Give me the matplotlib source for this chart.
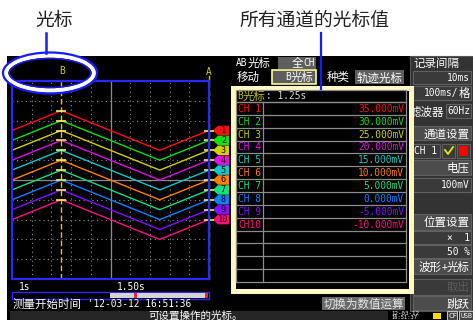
import numpy as np
import matplotlib
matplotlib.use("Agg")
import matplotlib.pyplot as plt
from matplotlib.patches import Rectangle, Ellipse, Polygon
from matplotlib.transforms import blended_transform_factory

# --- data ---
channels = ["CH 1", "CH 2", "CH 3", "CH 4", "CH 5", "CH 6", "CH 7", "CH 8", "CH 9", "CH10"]
cursor_values = [35, 30, 25, 20, 15, 10, 5, 0, -5, -10]          # mV at B cursor
colors = ["#ff1010", "#10e010", "#d0d000", "#e010e0", "#10c8c8",
          "#ff8000", "#10e080", "#1080ff", "#8010ff", "#ff1080"]
wave_t = [1.0, 1.25, 1.75, 2.0]          # s, corners of the triangle wave
wave_shape = [-10, 0, -20, -10]          # mV, relative to the B-cursor value
cursor_b = 1.25
cursor_a = 2.0
t_range = (1.0, 2.0)
v_range = (-50, 50)

W, H = 473, 320
MONO = "DejaVu Sans Mono"
CJK = "Noto Sans CJK SC"
YEL = "#d0d000"

fig = plt.figure(figsize=(W / 100, H / 100), dpi=100, facecolor="white")


def px_axes(x0, y0, x1, y1):
    return fig.add_axes([x0 / W, 1 - y1 / H, (x1 - x0) / W, (y1 - y0) / H])


def rect(ax, x0, y0, x1, y1, fc="none", ec="none", lw=0, z=1):
    ax.add_patch(Rectangle((x0, y0), x1 - x0, y1 - y0, facecolor=fc,
                           edgecolor=ec, linewidth=lw, zorder=z))


def wide(c):
    return ord(c) > 0x2e80


def stext(ax, x, y, s, color="white", em=11.5, ha="left", z=5):
    # pixel-font style: ascii half width, CJK full width
    adv = [em if wide(c) else em / 2 for c in s]
    total = sum(adv)
    x0 = x - total if ha == "right" else (x - total / 2 if ha == "center" else x)
    i = 0
    while i < len(s):
        w = wide(s[i])
        j = i
        while j < len(s) and wide(s[j]) == w:
            j += 1
        run = s[i:j]
        if w:
            ax.text(x0, y + 0.38 * em, run, family=CJK, fontsize=em * 0.72,
                    color=color, va="baseline", ha="left", zorder=z)
        else:
            fs = em / 2 / 0.602
            ax.text(x0, y + 0.36 * fs, run, family=MONO, fontsize=fs * 0.72,
                    color=color, va="baseline", ha="left", zorder=z)
        x0 += sum(adv[i:j])
        i = j


bg = px_axes(0, 0, W, H)
bg.set_xlim(0, W)
bg.set_ylim(H, 0)
bg.axis("off")

# screen
rect(bg, 7, 56, W, H, fc="black")

# top controls
stext(bg, 236, 63, "AB光标")
rect(bg, 278, 57, 316, 69, fc="#5e5e5e")
stext(bg, 315, 63, "全CH", ha="right")
stext(bg, 237, 77, "移动")
rect(bg, 272, 70, 316, 84, fc="#5e5e5e", ec="#ffff90", lw=1.2)
stext(bg, 314, 77, "B光标", ha="right")
stext(bg, 327, 77, "种类")
rect(bg, 355, 70, 404, 84, fc="#5e5e5e")
stext(bg, 403, 77, "轨迹光标", ha="right")

# right panel
rect(bg, 410, 56, W, 311, fc="#333333", ec="#555555", lw=0.8)
stext(bg, 413, 63, "记录间隔")
panel = [  # (text, y0, y1, fill, text colour)
    ("10ms", 71, 84, "#3a3a3a", "white"),
    ("100ms/格", 86, 100, "#3a3a3a", "white"),
    ("通道设置", 126, 140, "#4c4c4c", "white"),
    ("电压", 160, 175, "#4c4c4c", "white"),
    ("100mV", 178, 192, "#3a3a3a", "white"),
    ("位置设置", 214, 230, "#4c4c4c", "white"),
    ("×  1", 231, 244, "#3a3a3a", "white"),
    ("50 %", 245, 258, "#3a3a3a", "white"),
    ("波形+光标", 259, 274, "#4c4c4c", "white"),
    ("取出", 279, 295, "#3a3a3a", "#5c5c5c"),
    ("跳跃", 296, 310, "#4c4c4c", "white"),
]
for txt, y0, y1, fc, tc in panel:
    rect(bg, 413, y0, 471, y1, fc=fc, ec="#606060", lw=0.8)
    stext(bg, 470, (y0 + y1) / 2, txt, color=tc, ha="right")
stext(bg, 410, 111, "滤波器")
rect(bg, 446, 104, 471, 118, fc="#3a3a3a", ec="#606060", lw=0.8)
stext(bg, 470, 111, "60Hz", ha="right")
rect(bg, 413, 144, 440, 158, fc="#3a3a3a", ec="#606060", lw=0.8)
stext(bg, 414, 151, "CH 1")
rect(bg, 442, 144, 455, 158, fc="#3a3a3a", ec="#606060", lw=0.8)
bg.plot([445, 448, 453], [150, 154, 147], color="#e8e800", lw=1.3, zorder=5)
rect(bg, 457, 144, 470, 158, fc="#3a3a3a", ec="#606060", lw=0.8)
rect(bg, 459, 146, 468, 156, fc="#ff0000")

# status icons
stext(bg, 391, 313, "12-03-12", em=7)
stext(bg, 391, 317.5, "16:51:37", em=6.5)
rect(bg, 433, 313, 441, 319, fc="#ffd800")
rect(bg, 447, 311, 457, 320, fc="#404040", ec="#c0c0c0", lw=0.8)
stext(bg, 448, 315.5, "CF", em=9)
rect(bg, 459, 311, 473, 320, fc="#404040", ec="#c0c0c0", lw=0.8)
stext(bg, 460, 315.5, "USB", em=8)

# --- waveform area ---
ax = px_axes(12, 81, 209, 279)
ax.set_facecolor("black")
ax.set_xlim(*t_range)
ax.set_ylim(*v_range)
for sp in ax.spines.values():
    sp.set_color("#2828ff")
    sp.set_linewidth(1.6)
ax.set_xticks(np.linspace(t_range[0], t_range[1], 11))
ax.set_yticks(np.linspace(v_range[0], v_range[1], 11))
ax.tick_params(length=0, labelbottom=False, labelleft=False)
ax.grid(color="#8a8a8a", ls=(0, (1, 3)), lw=0.8)
ax.axvline(np.mean(t_range), color="#8a8a8a", lw=0.9)
ax.axhline(0, color="#8a8a8a", lw=0.9)
for v, c in zip(cursor_values, colors):
    ax.plot(wave_t, [v + d for d in wave_shape], color=c, lw=1.0)
ax.axvline(cursor_b, color=YEL, ls=(0, (4, 2)), lw=1.0)
ax.axvline(cursor_a, color=YEL, ls=(0, (4, 2)), lw=1.0, clip_on=False)
end_values = [v + wave_shape[-1] for v in cursor_values]
ax.plot([cursor_b] * len(cursor_values), cursor_values, ls="none", marker="_",
        ms=7, mew=1.2, color="#f0f060")
ax.plot([cursor_a] * len(end_values), end_values, ls="none", marker="_",
        ms=7, mew=1.2, color="#f0f060", clip_on=False)

# channel markers at right edge
blend = blended_transform_factory(bg.transData, ax.transData)
for k, (v, c) in enumerate(zip(end_values, colors)):
    pts = [(213, v), (218, v + 2.4), (229, v + 2.4), (229, v - 2.4), (218, v - 2.4)]
    bg.add_patch(Polygon(pts, closed=True, facecolor=c, edgecolor="none",
                         transform=blend, zorder=6))
    bg.text(223.5, v, str(k + 1), transform=blend, family=MONO, fontsize=6.2,
            color="#200000", ha="center", va="center", zorder=7)

# cursor labels
stext(bg, 62, 71, "B", color=YEL, ha="center")
stext(bg, 209, 72, "A", color=YEL, ha="center")
bg.plot([209, 209], [76, 81], color=YEL, lw=1.0, zorder=3)

# time labels and scrollbar
stext(bg, 19, 287, f"{t_range[0]:g}s")
stext(bg, 117, 287, f"{np.mean(t_range):.2f}s")
rect(bg, 12, 292, 209, 299, fc="black", ec="#2828ff", lw=1.0)
rect(bg, 110, 293, 208, 298, fc="#d4d4d4")
rect(bg, 134, 293, 137, 298, fc="#ff2020")
rect(bg, 205, 293, 208, 298, fc="#ff2020")
stext(bg, 13, 304, "测量开始时间 '12-03-12 16:51:36")

rect(bg, 10, 311, 388, 320, fc="#262626")
stext(bg, 148, 314.5, "可设置操作的光标。", em=10.5)
rect(bg, 322, 297, 405, 310, fc="#6a6a6a")
stext(bg, 404, 303.5, "切换为数值运算", color="#e8e8e8", ha="right")

# --- cursor value table ---
rect(bg, 232.5, 87.5, 411, 290.5, fc="black", ec="#fff8c4", lw=3.6, z=2)
GR = "#8c8c8c"
rect(bg, 236, 90, 406, 102, ec=GR, lw=0.9, z=3)
stext(bg, 237, 96, "B光标", color="#c0c000")
stext(bg, 265.75, 96, f": {cursor_b:.2f}s", color="#d8d8d8")
row_h = 12.86
n_rows = 14
for k in range(n_rows + 1):
    y = 102 + k * row_h
    bg.plot([236, 406], [y, y], color=GR, lw=0.9, zorder=3)
for x in (236, 263, 406):
    bg.plot([x, x], [102, 102 + n_rows * row_h], color=GR, lw=0.9, zorder=3)
for k, (name, v, c) in enumerate(zip(channels, cursor_values, colors)):
    yc = 102 + (k + 0.5) * row_h
    stext(bg, 238, yc, name, color=c)
    stext(bg, 404, yc, f"{v:.3f}mV", color=c, ha="right")

# --- callouts ---
ov = px_axes(0, 0, W, H)
ov.set_xlim(0, W)
ov.set_ylim(H, 0)
ov.axis("off")
ov.patch.set_visible(False)
ov.add_patch(Ellipse((50, 73), 88, 35, facecolor="none", edgecolor="white", lw=3.2))
ov.add_patch(Ellipse((50, 73), 94, 41, facecolor="none", edgecolor="#1a1aff", lw=1.6))
ov.add_patch(Ellipse((50, 73), 81, 29, facecolor="none", edgecolor="#1a1aff", lw=1.0))
ov.plot([45.5, 45.5], [33, 53], color="#1a1aff", lw=1.8)
ov.plot([321, 321], [33, 89], color="#1a1aff", lw=1.6)
ov.text(54, 20, "光标", family=CJK, fontsize=13.5, color="#222222",
        ha="center", va="center")
ov.text(314, 20, "所有通道的光标值", family=CJK, fontsize=13.5, color="#222222",
        ha="center", va="center")

fig.savefig("out.png", dpi=100, facecolor="white")
